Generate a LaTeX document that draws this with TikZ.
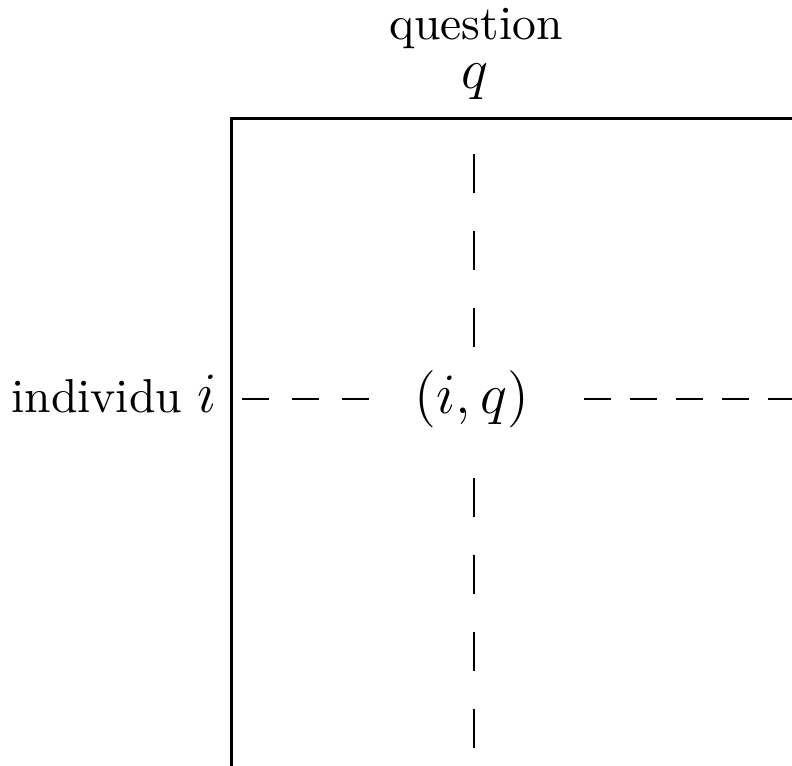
\documentclass[tikz,border=0pt]{standalone}
\begin{document}
\begin{tikzpicture}[x=0.21pt,y=-0.21pt,
  frame/.style={line width=0.65pt,line join=miter},
  vdash/.style={line width=0.35pt,dash pattern=on 8.19pt off 7.98pt},
  hdashl/.style={line width=0.35pt,dash pattern=on 5.67pt off 4.83pt},
  hdashr/.style={line width=0.35pt,dash pattern=on 5.67pt off 3.99pt},
  lbl/.style={inner sep=0pt,anchor=base}]
\useasboundingbox (0,0) rectangle (792,766);
% frame
\coordinate (tr) at (792,118.5);
\coordinate (corner) at (231.5,118.5);
\coordinate (bl) at (231.5,766);
\draw[frame] (tr) -- (corner) -- (bl);
% labels
\node[lbl] (question) at (476,40) {question};
\node[lbl] (qlab) at (475,89) {\large$q$};
\node[lbl,anchor=base east] (ilab) at (218,413) {individu {\large$i$}};
\node[lbl] (iq) at (472,414) {\large$(i,q)$};
% vertical dashed
\coordinate (vt1) at (474,154);
\coordinate (vt2) at (474,347);
\coordinate (vb1) at (474,478);
\coordinate (vb2) at (474,749);
\draw[vdash] (vt1) -- (vt2);
\draw[vdash] (vb1) -- (vb2);
% horizontal dashed
\coordinate (hl1) at (242,399);
\coordinate (hl2) at (369,399);
\coordinate (hr1) at (584,399);
\coordinate (hr2) at (792,399);
\draw[hdashl] (hl1) -- (hl2);
\draw[hdashr] (hr1) -- (hr2);
\end{tikzpicture}
\end{document}
